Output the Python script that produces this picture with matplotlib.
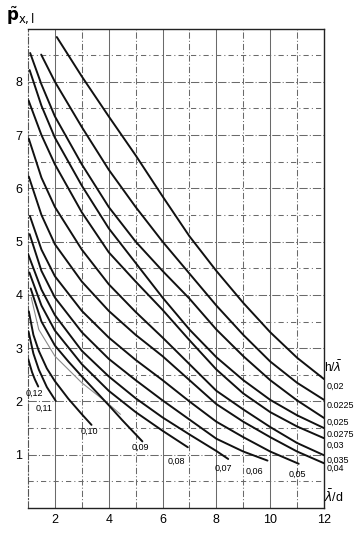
import matplotlib
matplotlib.use("Agg")
import matplotlib.pyplot as plt

plt.rcParams['font.family'] = ['Liberation Sans', 'DejaVu Sans']

# Curve data: h/lambda -> (x points, y points)
h_labels = ["0,02", "0.0225", "0,025", "0.0275", "0,03", "0,035", "0,04",
            "0,05", "0,06", "0,07", "0,08", "0,09", "0,10", "0,11", "0,12"]

x_002 = [2.07, 3, 4, 5, 6, 7, 8, 9, 10, 11, 12]
y_002 = [8.84, 8.1, 7.35, 6.62, 5.85, 5.1, 4.45, 3.85, 3.3, 2.82, 2.42]

x_00225 = [1.49, 2, 3, 4, 5, 6, 7, 8, 9, 10, 11, 12]
y_00225 = [8.51, 8.0, 7.15, 6.35, 5.65, 5.0, 4.4, 3.8, 3.25, 2.75, 2.35, 2.03]

x_0025 = [1.08, 1.5, 2, 3, 4, 5, 6, 7, 8, 9, 10, 11, 12]
y_0025 = [8.54, 7.95, 7.35, 6.45, 5.65, 5.0, 4.45, 3.93, 3.35, 2.85, 2.4, 2.02, 1.69]

x_00275 = [1.06, 1.5, 2, 3, 4, 5, 6, 7, 8, 9, 10, 11, 12]
y_00275 = [8.22, 7.55, 6.95, 6.05, 5.25, 4.6, 3.95, 3.35, 2.83, 2.4, 2.03, 1.74, 1.50]

x_003 = [1.02, 1.5, 2, 3, 4, 5, 6, 7, 8, 9, 10, 11, 12]
y_003 = [7.65, 7.0, 6.45, 5.55, 4.8, 4.25, 3.72, 3.15, 2.6, 2.15, 1.8, 1.53, 1.31]

x_0035 = [1.03, 1.5, 2, 3, 4, 5, 6, 7, 8, 9, 10, 11, 12]
y_0035 = [6.93, 6.2, 5.65, 4.85, 4.2, 3.68, 3.2, 2.7, 2.2, 1.85, 1.52, 1.22, 0.99]

x_004 = [1.03, 1.5, 2, 3, 4, 5, 6, 7, 8, 9, 10, 11, 12]
y_004 = [6.22, 5.5, 4.95, 4.25, 3.7, 3.25, 2.85, 2.4, 1.95, 1.62, 1.33, 1.06, 0.84]

x_005 = [1.07, 1.5, 2, 3, 4, 5, 6, 7, 8, 9, 10, 11.06]
y_005 = [5.48, 4.85, 4.35, 3.7, 3.2, 2.78, 2.4, 2.0, 1.62, 1.33, 1.06, 0.83]

x_006 = [1.06, 1.5, 2, 3, 4, 5, 6, 7, 8, 9, 9.9]
y_006 = [5.14, 4.45, 3.95, 3.3, 2.8, 2.4, 2.02, 1.66, 1.3, 1.06, 0.89]

x_007 = [1.0, 1.5, 2, 3, 4, 5, 6, 7, 8, 8.44]
y_007 = [4.77, 4.1, 3.62, 2.95, 2.47, 2.06, 1.7, 1.38, 1.07, 0.92]

x_008 = [1.05, 1.5, 2, 3, 4, 5, 6, 6.94]
y_008 = [4.42, 3.8, 3.33, 2.7, 2.2, 1.8, 1.45, 1.14]

x_009 = [1.1, 1.5, 2, 2.5, 3, 3.5, 4, 4.5, 5.25]
y_009 = [4.12, 3.5, 3.05, 2.75, 2.47, 2.2, 1.93, 1.65, 1.25]

x_010 = [1.03, 1.2, 1.4, 1.7, 2, 2.5, 3, 3.36]
y_010 = [3.69, 3.25, 2.95, 2.62, 2.38, 2.05, 1.76, 1.56]

x_011 = [1.02, 1.2, 1.4, 1.7, 2.03]
y_011 = [3.31, 2.9, 2.6, 2.27, 2.01]

x_012 = [1.01, 1.15, 1.25, 1.38]
y_012 = [2.79, 2.55, 2.42, 2.28]

# faint unlabeled curve
x_gray = [1.12, 1.4, 2, 3, 4, 4.43]
y_gray = [3.95, 3.35, 2.85, 2.35, 1.95, 1.76]

curves_x = [x_002, x_00225, x_0025, x_00275, x_003, x_0035, x_004,
            x_005, x_006, x_007, x_008, x_009, x_010, x_011, x_012]
curves_y = [y_002, y_00225, y_0025, y_00275, y_003, y_0035, y_004,
            y_005, y_006, y_007, y_008, y_009, y_010, y_011, y_012]

# label anchor positions (layout)
right_label_y = [2.29, 1.93, 1.61, 1.38, 1.18, 0.90, 0.74]
bottom_label_x = [11.02, 9.42, 8.27, 6.5, 5.16, 3.29, 1.58, 1.24]
bottom_label_y = [0.64, 0.69, 0.75, 0.88, 1.13, 1.44, 1.88, 2.16]

x_ticks = [2, 4, 6, 8, 10, 12]
y_ticks = [1, 2, 3, 4, 5, 6, 7, 8]

fig = plt.figure(figsize=(3.63, 5.39), dpi=100)
ax = fig.add_axes([28/363, 1-508/539, (324-28)/363, (508-28.5)/539])
ax.set_xlim(1, 12)
ax.set_ylim(0, 9)

gc = '#6a6a6a'
# vertical grid
for xv in range(2, 12):
    if xv % 2 == 0:
        ax.axvline(xv, color=gc, lw=0.75, ls='-', zorder=1)
    else:
        ax.axvline(xv, color=gc, lw=0.75, ls=(0, (6, 2, 1, 2)), zorder=1)
# horizontal grid
for k in range(1, 18):
    yv = k * 0.5
    if k % 2 == 0:
        ax.axhline(yv, color=gc, lw=0.75, ls=(0, (8, 2, 1, 2)), zorder=1)
    else:
        ax.axhline(yv, color=gc, lw=0.75, ls=(0, (5, 3, 1, 3)), zorder=1)

for s in ['top', 'right', 'bottom']:
    ax.spines[s].set_linewidth(1.0)
    ax.spines[s].set_color('#222222')
ax.spines['left'].set_linestyle((0, (6, 2, 1, 2)))
ax.spines['left'].set_color('#555555')
ax.spines['left'].set_linewidth(0.8)

for cx, cy in zip(curves_x, curves_y):
    ax.plot(cx, cy, color='#111111', lw=1.4, solid_capstyle='round', zorder=3)
ax.plot(x_gray, y_gray, color='#8a8a8a', lw=0.8, zorder=2)

ax.set_xticks(x_ticks)
ax.set_yticks(y_ticks)
ax.set_xticklabels([str(v) for v in x_ticks], fontsize=9)
ax.set_yticklabels([str(v) for v in y_ticks], fontsize=9)
ax.tick_params(length=0, pad=4)

# right-side labels
for i in range(7):
    ax.text(12.08, right_label_y[i], h_labels[i], fontsize=6.5, ha='left', va='center',
            clip_on=False)
# bottom labels near curve ends
for j, i in enumerate(range(7, 15)):
    ax.text(bottom_label_x[j], bottom_label_y[j], h_labels[i], fontsize=6.5,
            ha='center', va='center')

ax.text(12.0, 2.5, r'h/$\bar{\lambda}$', fontsize=8.5, ha='left', va='bottom', clip_on=False)
ax.text(12.0, 0.05, r'$\bar{\lambda}$/d', fontsize=9, ha='left', va='bottom', clip_on=False)
fig.text(6/363, 1-20/539, r'$\tilde{\mathbf{p}}_{\mathrm{x,l}}$', fontsize=12, ha='left', va='baseline')

fig.savefig('out.png', dpi=100)
